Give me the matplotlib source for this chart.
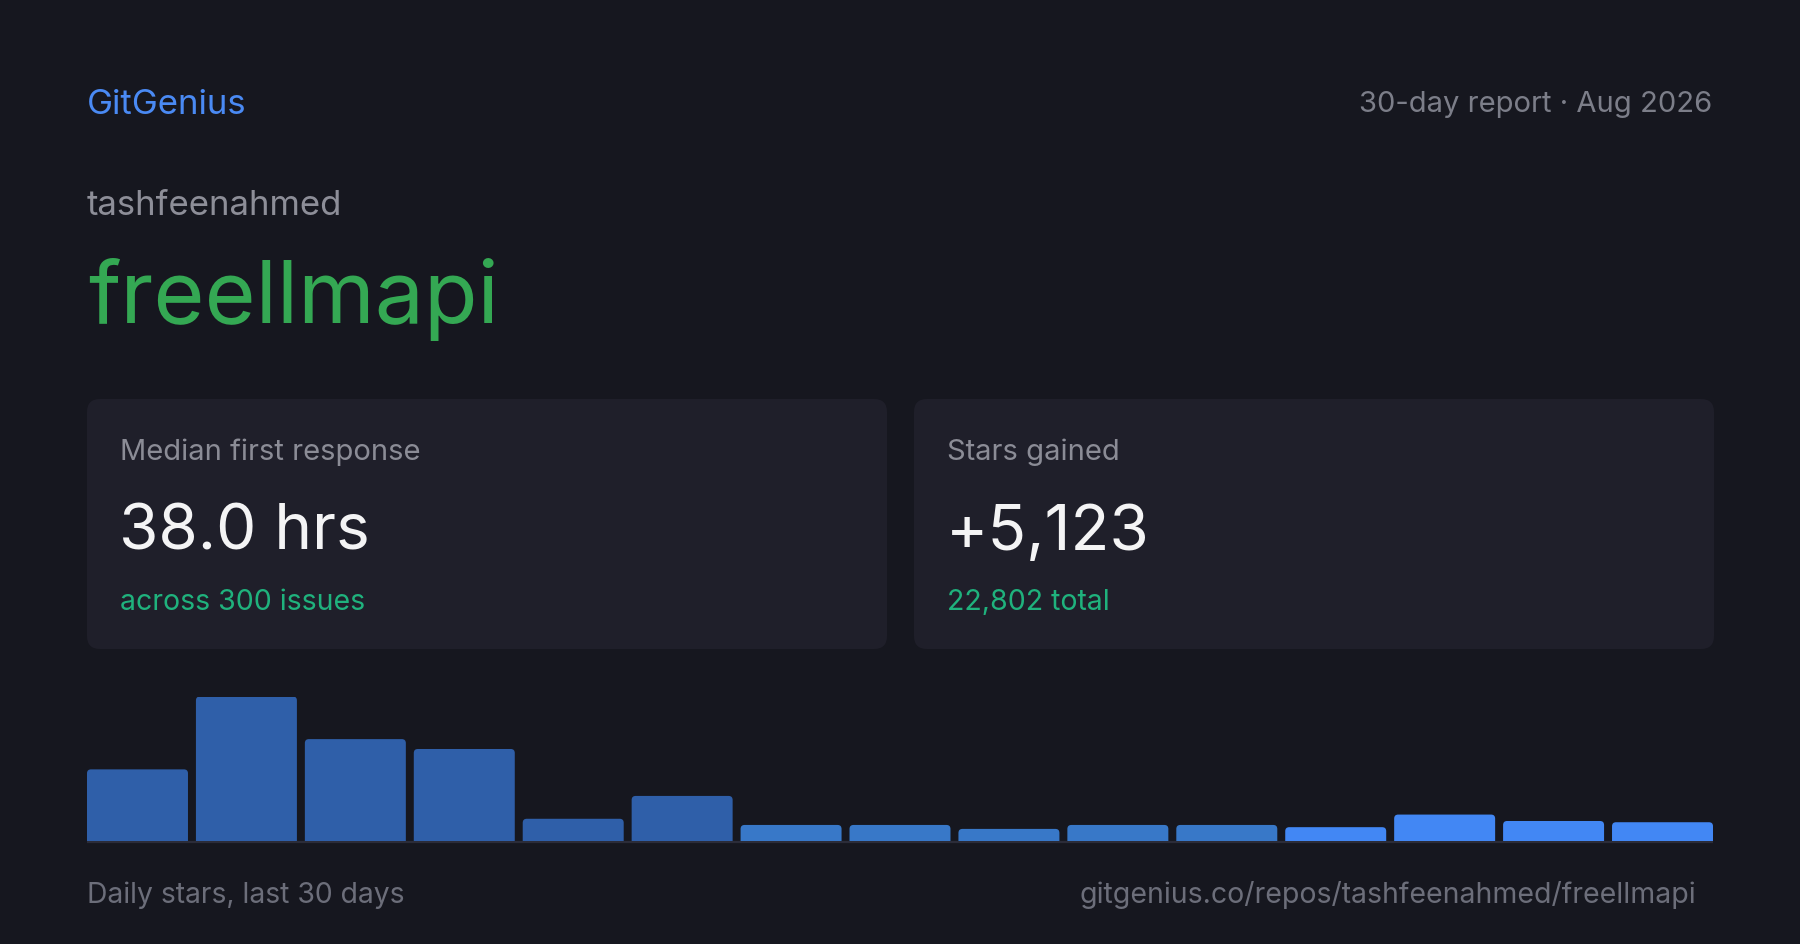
import matplotlib
matplotlib.use("Agg")
import matplotlib.pyplot as plt
from matplotlib.patches import FancyBboxPatch

plt.rcParams['font.family'] = ['Inter', 'DejaVu Sans']

# data
brand = "GitGenius"
report_label = "30-day report \u00b7 Aug 2026"
owner = "tashfeenahmed"
repo = "freellmapi"
card_titles = ["Median first response", "Stars gained"]
card_values = ["38.0 hrs", "+5,123"]
card_notes = ["across 300 issues", "22,802 total"]
star_counts = [580, 1170, 825, 745, 180, 365, 130, 130, 98, 130, 130, 112, 214, 162, 152]
footer_left = "Daily stars, last 30 days"
footer_right = "gitgenius.co/repos/tashfeenahmed/freellmapi"

# colours
BG = '#16171f'
CARD = '#1f1f2a'
bar_colors = ['#2f5fa9'] * 6 + ['#3878c8'] * 5 + ['#4287f4'] * 4

W, H = 1800, 945
fig = plt.figure(figsize=(W / 100, H / 100), dpi=100, facecolor=BG)

# background axes in pixel coords (y down)
bg = fig.add_axes([0, 0, 1, 1])
bg.set_xlim(0, W)
bg.set_ylim(H, 0)
bg.axis('off')

bg.text(87, 114, brand, fontsize=25, color='#4a8af4', va='baseline', ha='left')
bg.text(1712, 112, report_label, fontsize=21, color='#7c7e89', va='baseline', ha='right')
bg.text(87, 215, owner, fontsize=25, color='#8d8e98', va='baseline', ha='left')
bg.text(88, 323, repo, fontsize=63, color='#34a853', va='baseline', ha='left')

# stat cards
card_x = [87, 914]
card_w = 800
for i in range(2):
    x0 = card_x[i]
    box = FancyBboxPatch((x0, 400), card_w, 250, boxstyle="round,pad=0,rounding_size=13",
                         facecolor=CARD, edgecolor='none')
    bg.add_patch(box)
    bg.text(x0 + 33, 460, card_titles[i], fontsize=21, color='#8b8c96', va='baseline')
    bg.text(x0 + 32, 550, card_values[i], fontsize=46, color='#f4f4f5', va='baseline')
    bg.text(x0 + 33, 610, card_notes[i], fontsize=20.5, color='#1fb27d', va='baseline')

# baseline under bars
bg.plot([87, 1713], [843, 843], color='#2b2c39', lw=1.6, solid_capstyle='butt')

bg.text(87, 903, footer_left, fontsize=20.4, color='#6c6e7a', va='baseline')
bg.text(1696, 903, footer_right, fontsize=20.5, color='#6c6e7a', va='baseline', ha='right')

# bar chart
ax = fig.add_axes([87 / W, (H - 842) / H, (1713 - 87) / W, (842 - 697.5) / H])
ax.set_facecolor('none')
n = len(star_counts)
bars = ax.bar(range(n), star_counts, width=0.927, align='edge', color=bar_colors)
ax.set_xlim(0, n - (1 - 0.927))
ymax = max(star_counts)
ax.set_ylim(0, ymax)
ax.axis('off')

# swap plain rectangles for rounded ones (bottom part hidden below the axes)
px_per_x = (1713 - 87) / (n - (1 - 0.927))
px_per_y = (842 - 697.5) / ymax
r = 4.0
for b, c in zip(bars, bar_colors):
    rx = r / px_per_x
    ry = r / px_per_y
    rb = FancyBboxPatch((b.get_x(), -ry * 2), b.get_width(), b.get_height() + ry * 2,
                        boxstyle="round,pad=0,rounding_size=%f" % rx,
                        mutation_aspect=ry / rx, facecolor=c, edgecolor='none')
    ax.add_patch(rb)
    b.remove()

fig.savefig('out.png', dpi=100, facecolor=BG)
